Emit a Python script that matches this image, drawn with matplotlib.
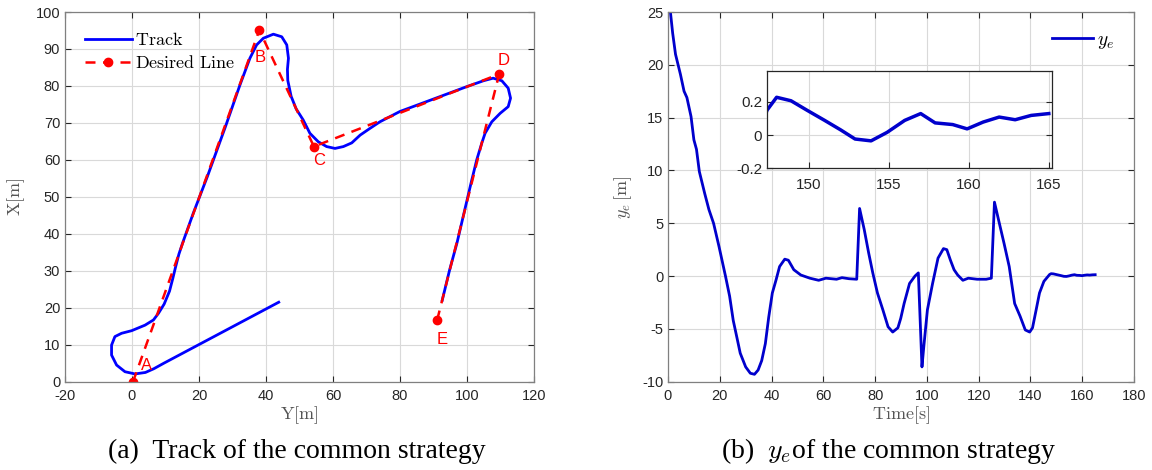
import matplotlib
matplotlib.use("Agg")
import matplotlib.pyplot as plt

plt.rcParams['mathtext.fontset'] = 'cm'
plt.rcParams['axes.unicode_minus'] = False
plt.rcParams['font.family'] = ['Liberation Sans', 'DejaVu Sans']

# desired waypoints (Y, X)
wp_names = ['A', 'B', 'C', 'D', 'E']
wp_y = [0.3, 38.0, 54.3, 109.6, 91.1]
wp_x = [0.0, 95.1, 63.6, 83.2, 16.7]
lbl_y = [4.2, 38.3, 56.0, 111.0, 92.7]
lbl_x = [4.5, 87.8, 59.7, 86.8, 11.5]

# tracked path (Y, X)
track_y = [43.8, 9.5, 6.5, 4.0, 0.9, -2.1, -4.6, -6.1, -6.1, -5.1, -3.1, -0.1, 3.9, 6.4,
           7.9, 9.6, 11.2, 12.2, 13.0, 14.0, 15.1, 18.3, 22.5, 27.9, 32.2, 35.2, 37.2, 39.2,
           42.2, 44.7, 46.2, 46.7, 46.4, 46.5, 47.5, 49.0, 51.1, 53.1, 55.6, 58.1, 60.6,
           63.1, 65.6, 68.1, 71.0, 74.0, 80.0, 91.9, 99.9, 104.9, 107.8, 110.4, 112.3,
           113.0, 112.3, 109.9, 107.4, 105.4, 104.4, 102.9, 101.2, 99.1, 97.0, 94.8, 92.6]
track_x = [21.5, 5.0, 3.5, 2.5, 2.1, 2.7, 4.5, 7.2, 9.9, 12.2, 13.1, 13.8, 15.3, 16.7,
           18.5, 21.0, 24.5, 28.0, 31.0, 34.5, 37.5, 45.6, 55.5, 69.0, 80.2, 87.5, 91.1, 92.9,
           94.0, 93.3, 91.1, 87.5, 84.5, 81.5, 77.2, 73.8, 70.8, 67.2, 64.9, 63.6, 63.1,
           63.6, 64.6, 66.7, 68.5, 70.3, 73.1, 77.1, 79.8, 81.4, 82.1, 81.4, 79.4,
           76.7, 74.4, 72.6, 70.3, 67.2, 64.5, 60.0, 53.7, 45.6, 37.5, 30.2, 22.0]

# lateral error over time
t = [0.5, 1.8, 2.9, 4.8, 6.2, 7.3, 8.9, 10.0, 11.0, 12.1, 14.2, 15.8, 17.6, 19.7, 22.2,
     23.8, 25.2, 26.6, 27.9, 30.0, 31.8, 33.4, 34.8, 36.2, 37.6, 38.9, 40.3, 41.7, 43.1,
     45.1, 46.5, 48.6, 51.3, 54.8, 58.2, 61.0, 65.1, 67.2, 69.9, 72.9, 74.0, 75.8, 77.5,
     79.1, 80.9, 83.0, 85.0, 86.8, 88.8, 89.9, 91.2, 93.3, 95.4, 96.7, 98.1, 98.8, 100.2,
     102.2, 104.3, 106.4, 107.7, 109.1, 110.5, 111.9, 113.9, 116.0, 119.4, 122.9, 124.9,
     126.1, 127.7, 129.8, 131.8, 133.9, 136.0, 138.0, 139.7, 140.8, 142.2, 143.5, 145.2,
     147.4, 148.0, 148.9, 149.9, 151.0, 152.0, 152.9, 153.9, 154.9, 156.0, 157.0, 157.9,
     159.0, 159.9, 160.9, 161.9, 162.9, 163.9, 165.0]
ye = [26.0, 23.0, 21.0, 19.1, 17.5, 16.9, 15.1, 12.9, 12.0, 9.9, 7.8, 6.3, 5.0, 2.8, 0.0,
      -1.9, -4.2, -5.8, -7.3, -8.6, -9.2, -9.3, -8.9, -8.0, -6.4, -3.9, -1.6, -0.4, 0.9,
      1.6, 1.5, 0.6, 0.1, -0.2, -0.4, -0.2, -0.3, -0.15, -0.25, -0.3, 6.4, 4.4, 2.2,
      0.3, -1.6, -3.2, -4.8, -5.3, -4.9, -4.0, -2.6, -0.7, 0.0, 0.3, -8.6, -6.7, -3.2,
      -0.7, 1.7, 2.6, 2.5, 1.5, 0.6, 0.1, -0.4, -0.2, -0.3, -0.3, -0.2,
      7.0, 5.3, 3.1, 0.9, -2.6, -3.8, -5.1, -5.3, -4.9, -3.2, -1.6, -0.5,
      0.149, 0.227, 0.206, 0.149, 0.088, 0.031, -0.024, -0.035, 0.016, 0.088, 0.129, 0.073,
      0.063, 0.037, 0.078, 0.108, 0.092, 0.118, 0.129]

W, H = 1152, 470
fig = plt.figure(figsize=(W / 100, H / 100), dpi=100)

tick_col = '#262626'
lab_col = '#555555'


def matlab_style(ax, fs=10.5):
    ax.grid(True, color='#d9d9d9', linewidth=0.8)
    ax.set_axisbelow(True)
    ax.tick_params(direction='in', top=True, right=True, labelsize=fs,
                   colors=tick_col, length=4)
    for s in ax.spines.values():
        s.set_color('#808080')
        s.set_linewidth(0.9)


# (a) track
ax1 = fig.add_axes([65 / W, 88.3 / H, 469 / W, 369.7 / H])
ax1.plot(track_y, track_x, color='#0000ff', lw=2, label=r'$\mathrm{Track}$')
ax1.plot(wp_y, wp_x, color='#ff0000', lw=1.8, ls=(0, (4, 3)), marker='o', ms=6,
         label=r'$\mathrm{Desired\ Line}$')
for n, ly, lx in zip(wp_names, lbl_y, lbl_x):
    ax1.text(ly, lx, n, color='#ff0000', fontsize=12, ha='center', va='center')
ax1.set_xlim(-20, 120)
ax1.set_ylim(0, 100)
ax1.set_xticks(range(-20, 121, 20))
ax1.set_yticks(range(0, 101, 10))
matlab_style(ax1)
ax1.tick_params(axis='x', pad=5)
ax1.set_xlabel(r'$\mathrm{Y[m]}$', fontsize=13, color=lab_col, labelpad=1)
ax1.set_ylabel(r'$\mathrm{X[m]}$', fontsize=13, color=lab_col, labelpad=6)
ax1.legend(loc='upper left', frameon=False, fontsize=13, handlelength=2.6,
           handletextpad=0.2, borderaxespad=0.7, labelspacing=0.35)

# (b) lateral error
ax2 = fig.add_axes([668 / W, 88.3 / H, 466 / W, 369.7 / H])
ax2.plot(t, ye, color='#0000cc', lw=2, label=r'$y_e$')
ax2.set_xlim(0, 180)
ax2.set_ylim(-10, 25)
ax2.set_xticks(range(0, 181, 20))
ax2.set_yticks(range(-10, 26, 5))
matlab_style(ax2)
ax2.tick_params(axis='x', pad=5)
ax2.set_xlabel(r'$\mathrm{Time[s]}$', fontsize=13, color=lab_col, labelpad=1)
ax2.set_ylabel(r'$y_e\,[\mathrm{m}]$', fontsize=13, color=lab_col, labelpad=6)
ax2.legend(loc='upper right', frameon=False, fontsize=14, handlelength=2.1,
           handletextpad=0.2, borderaxespad=0.6)

# inset
axi = fig.add_axes([767 / W, (H - 168.3) / H, 285 / W, 97.3 / H])
axi.plot(t, ye, color='#0000cc', lw=2.5)
axi.set_xlim(147.4, 165.2)
axi.set_ylim(-0.2, 0.385)
axi.set_xticks([150, 155, 160, 165])
axi.set_yticks([-0.2, 0, 0.2])
axi.set_yticklabels(['-0.2', '0', '0.2'])
matlab_style(axi, fs=11)
axi.tick_params(top=False, right=False, axis='x', pad=7)
for s in axi.spines.values():
    s.set_color(tick_col)

fig.text(297 / W, 1 - 451 / H, '(a)  Track of the common strategy', ha='center',
         va='center', fontsize=20, family='Liberation Serif')
fig.text(889 / W, 1 - 451 / H, r'(b)  $y_e$of the common strategy', ha='center',
         va='center', fontsize=20, family='Liberation Serif')

fig.savefig('out.png', dpi=100)
